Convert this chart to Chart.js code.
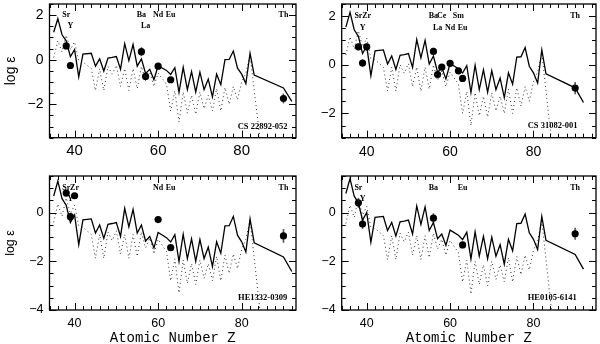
<!DOCTYPE html>
<html>
<head>
<meta charset="utf-8">
<script src="https://cdn.jsdelivr.net/npm/chart.js@4.4.1/dist/chart.umd.min.js"></script>
<style>
  html, body { margin: 0; padding: 0; background: #fff; }
  #wrap { position: relative; width: 600px; height: 344px; overflow: hidden; }
  #wrap canvas { position: absolute; }
</style>
</head>
<body>
<div id="wrap">
  <canvas id="p1" width="300" height="172" style="left:0;top:0"></canvas>
  <canvas id="p2" width="300" height="172" style="left:300px;top:0"></canvas>
  <canvas id="p3" width="300" height="172" style="left:0;top:172px"></canvas>
  <canvas id="p4" width="300" height="172" style="left:300px;top:172px"></canvas>
</div>
<script>
// scaled solar r-process pattern (solid) and model pattern (dotted), log eps vs Z
const solarZ = [35,36,37,38,39,40,41,42,44,45,46,47,48,49,50,51,52,53,54,55,56,57,58,59,60,62,63,64,65,66,67,68,69,70,71,72,73,74,75,76,77,78,79,80,81,82,83,90,92];
const solarEps = [1.23,1.84,1.12,0.85,0.14,0.45,-0.77,0.25,0.29,-0.29,0.04,-0.51,0.07,0.10,0.14,-0.43,0.72,-0.04,0.68,-0.29,0.04,-0.62,-0.43,-0.90,-0.27,-0.48,-0.66,-0.36,-1.46,-0.34,-1.34,-0.53,-1.45,-0.56,-1.34,-0.87,-1.67,-0.65,-1.12,0.00,0.01,0.39,-0.38,-0.65,-1.07,0.29,-0.69,-1.27,-1.87];

const modelZ = [35,36,37,38,39,40,41,42,44,45,46,47,48,49,50,51,52,53,54,55,56,57,58,59,60,62,63,64,65,66,67,68,69,70,71,72,73,74,75,76,77,78,79,80,81,82,85];
const modelEps = [0.10,0.85,0.35,1.10,0.45,0.80,-0.05,-0.10,-0.40,-1.38,-0.40,-1.38,-0.30,-0.65,-0.25,-1.20,-0.40,-1.38,-0.40,-1.30,-0.30,-0.95,-0.55,-1.20,-0.60,-1.10,-2.30,-1.40,-2.80,-1.45,-2.40,-1.60,-2.45,-1.45,-2.20,-1.60,-2.30,-1.30,-2.30,-1.25,-2.00,-1.20,-1.80,-1.00,-0.60,0.20,-4.50];

// how far each pattern is moved to fit each star
const solarShift = [0, 0.32, -0.55, -0.45];
const modelShift = [0, 0.30, -0.50, -0.55];

// observed abundances
const cs22892Tags = ['Sr','Y','Ba','La','Nd','Eu','Th'];
const cs22892Z = [38,39,56,57,60,63,90];
const cs22892Eps = [0.62,-0.26,0.36,-0.75,-0.29,-0.90,-1.74];
const cs22892Err = [0.10,0.12,0.20,0.12,0.10,0.10,0.22];

const cs31082Tags = ['Sr','Y','Zr','Ba','La','Ce','Nd','Sm','Eu','Th'];
const cs31082Z = [38,39,40,56,57,58,60,62,63,90];
const cs31082Eps = [0.74,0.07,0.74,0.55,-0.40,-0.10,0.06,-0.25,-0.56,-0.96];
const cs31082Err = [0.12,0.15,0.15,0.15,0.12,0.12,0.10,0.10,0.10,0.25];

const he1332Tags = ['Sr','Y','Zr','Nd','Eu','Th'];
const he1332Z = [38,39,40,60,63,90];
const he1332Eps = [0.80,-0.17,0.69,-0.29,-1.44,-0.96];
const he1332Err = [0.10,0.10,0.10,0.10,0.10,0.28];

const he0105Tags = ['Sr','Y','Ba','Eu','Th'];
const he0105Z = [38,39,56,63,90];
const he0105Eps = [0.40,-0.47,-0.23,-1.33,-0.87];
const he0105Err = [0.20,0.20,0.20,0.10,0.25];

const xTicks = [40, 60, 80];
const topYTicks = [-2, 0, 2];
const bottomYTicks = [-4, -2, 0];

const panels = [
  { id: 'p1', name: 'CS 22892-052', z: cs22892Z, eps: cs22892Eps, err: cs22892Err, tags: cs22892Tags,
    tagRow: [0,1,0,1,0,0,0], rowY: [2.0, 1.5], nameAt: [85, -3.0],
    xMax: 93, yMin: -3.5, yMax: 2.5, yTicks: topYTicks, yW: 49.5, xH: 34.3, xFont: 15, yFont: 14, xPad: 4, yTitle: true, xTitle: false },
  { id: 'p2', name: 'CS 31082-001', z: cs31082Z, eps: cs31082Eps, err: cs31082Err, tags: cs31082Tags,
    tagRow: [0,1,0,0,1,0,1,0,1,0], rowY: [2.0, 1.5], nameAt: [84.6, -2.5],
    xMax: 95, yMin: -3, yMax: 2.5, yTicks: topYTicks, yW: 41.7, xH: 34.3, xFont: 14, yFont: 13, xPad: 6, yTitle: false, xTitle: false },
  { id: 'p3', name: 'HE1332-0309', z: he1332Z, eps: he1332Eps, err: he1332Err, tags: he1332Tags,
    tagRow: [0,1,0,0,0,0], rowY: [1.0, 0.55], nameAt: [85, -3.5],
    xMax: 93, yMin: -4, yMax: 1.5, yTicks: bottomYTicks, yW: 49.5, xH: 34, xFont: 12.5, yFont: 12.5, xPad: 6, yTitle: true, xTitle: true },
  { id: 'p4', name: 'HE0105-6141', z: he0105Z, eps: he0105Eps, err: he0105Err, tags: he0105Tags,
    tagRow: [0,1,0,0,0], rowY: [1.0, 0.55], nameAt: [84.5, -3.5],
    xMax: 95, yMin: -4, yMax: 1.5, yTicks: bottomYTicks, yW: 41.7, xH: 34, xFont: 12.5, yFont: 12.5, xPad: 6, yTitle: false, xTitle: true }
];

function toPoints(zs, vals, shift) {
  return zs.map((z, i) => ({ x: z, y: vals[i] + shift }));
}

// frame, inward ticks, error bars and element labels
const decorPlugin = {
  id: 'decor',
  beforeDatasetsDraw(chart) {
    const p = chart.options.plugins.decor.panel;
    const xs = chart.scales.x, ys = chart.scales.y, ctx = chart.ctx;
    ctx.save();
    ctx.strokeStyle = '#555';
    ctx.lineWidth = 1.6;
    p.z.forEach((z, i) => {
      const px = xs.getPixelForValue(z);
      ctx.beginPath();
      ctx.moveTo(px, ys.getPixelForValue(p.eps[i] - p.err[i]));
      ctx.lineTo(px, ys.getPixelForValue(p.eps[i] + p.err[i]));
      ctx.stroke();
    });
    ctx.restore();
  },
  afterDraw(chart) {
    const p = chart.options.plugins.decor.panel;
    const a = chart.chartArea, xs = chart.scales.x, ys = chart.scales.y, ctx = chart.ctx;
    ctx.save();
    ctx.strokeStyle = '#000';
    ctx.lineWidth = 1;
    ctx.beginPath();
    for (let v = 34; v <= p.xMax; v += 2) {
      const px = Math.round(xs.getPixelForValue(v)) + 0.5;
      const len = v % 20 === 0 ? 7 : 4;
      ctx.moveTo(px, a.bottom); ctx.lineTo(px, a.bottom - len);
      ctx.moveTo(px, a.top); ctx.lineTo(px, a.top + len);
    }
    for (let v = p.yMin; v <= p.yMax; v += 0.5) {
      const py = Math.round(ys.getPixelForValue(v)) + 0.5;
      const len = v % 2 === 0 ? 7 : 4;
      ctx.moveTo(a.left, py); ctx.lineTo(a.left + len, py);
      ctx.moveTo(a.right, py); ctx.lineTo(a.right - len, py);
    }
    ctx.stroke();
    ctx.lineWidth = 1.3;
    ctx.strokeRect(a.left, a.top, a.right - a.left, a.bottom - a.top);

    ctx.fillStyle = '#000';
    ctx.textAlign = 'center';
    ctx.textBaseline = 'middle';
    ctx.font = 'bold 8px "Liberation Serif"';
    p.tags.forEach((t, i) => {
      ctx.fillText(t, xs.getPixelForValue(p.z[i]), ys.getPixelForValue(p.rowY[p.tagRow[i]]));
    });
    ctx.font = 'bold 8.5px "Liberation Serif"';
    ctx.fillText(p.name, xs.getPixelForValue(p.nameAt[0]), ys.getPixelForValue(p.nameAt[1]));
    ctx.restore();
  }
};

panels.forEach((p, k) => {
  new Chart(document.getElementById(p.id), {
    type: 'line',
    data: {
      datasets: [
        { data: toPoints(solarZ, solarEps, solarShift[k]), borderColor: '#000', borderWidth: 1.3, pointRadius: 0, tension: 0 },
        { data: toPoints(modelZ, modelEps, modelShift[k]), borderColor: '#333', borderWidth: 1, borderDash: [1, 3], pointRadius: 0, tension: 0 },
        { type: 'scatter', data: toPoints(p.z, p.eps, 0), pointRadius: 3.6, backgroundColor: '#000', borderColor: '#000', borderWidth: 0 }
      ]
    },
    options: {
      responsive: false,
      animation: false,
      layout: { padding: { top: 1, right: 1, left: 0, bottom: 0 } },
      plugins: { legend: { display: false }, tooltip: { enabled: false }, decor: { panel: p } },
      scales: {
        x: {
          type: 'linear', min: 34, max: p.xMax,
          afterBuildTicks: s => { s.ticks = xTicks.map(v => ({ value: v })); },
          afterFit: s => { s.height = p.xH; s.paddingLeft = 0; s.paddingRight = 0; },
          grid: { display: false, drawTicks: false },
          border: { display: false },
          ticks: { color: '#000', font: { family: '"Liberation Sans"', size: p.xFont }, padding: p.xPad, maxRotation: 0 },
          title: { display: p.xTitle, text: 'Atomic Number Z', color: '#000',
                   font: { family: '"Liberation Mono"', size: 14, lineHeight: 0.8 }, padding: { top: 0, bottom: 0 } }
        },
        y: {
          min: p.yMin, max: p.yMax,
          afterBuildTicks: s => { s.ticks = p.yTicks.map(v => ({ value: v })); },
          afterFit: s => { s.width = p.yW; s.paddingTop = 0; s.paddingBottom = 0; },
          grid: { display: false, drawTicks: false },
          border: { display: false },
          ticks: { color: '#000', font: { family: '"Liberation Sans"', size: p.yFont }, padding: 6,
                   callback: v => (v < 0 ? '\u2212' + Math.abs(v) : String(v)) },
          title: { display: p.yTitle, text: 'log \u03b5', color: '#000',
                   font: { family: '"Liberation Sans"', size: p.yFont }, padding: { top: 3, bottom: 0 } }
        }
      }
    },
    plugins: [decorPlugin]
  });
});
</script>
</body>
</html>
